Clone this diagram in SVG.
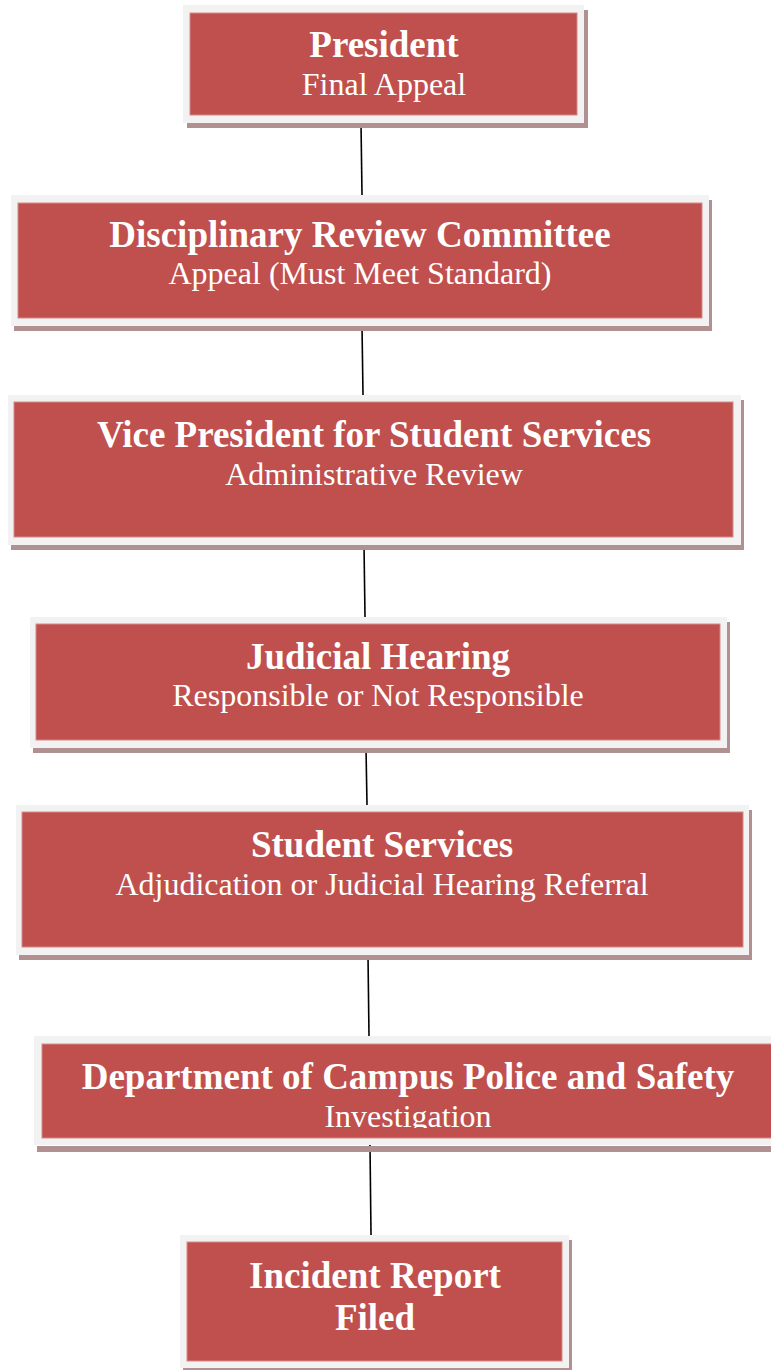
<svg xmlns="http://www.w3.org/2000/svg" width="771" height="1370" viewBox="0 0 771 1370">
<style>
.sh{fill:#b09090}
.fr{fill:#f2f2f2}
.rd{fill:#c0504d;stroke:#d58a88;stroke-width:1}
.t{font-family:"Liberation Serif","Times New Roman",serif;font-weight:bold;font-size:37px;fill:#ffffff;text-anchor:middle}
.s{font-family:"Liberation Serif","Times New Roman",serif;font-size:32px;fill:#ffffff;text-anchor:middle}
.c{stroke:#000000;stroke-width:1.6;fill:none}
</style>
<defs>
<clipPath id="clipInv"><rect x="42" y="1044" width="740" height="84"/></clipPath>
</defs>
<rect width="771" height="1370" fill="#ffffff"/>
<g id="connectors">
<line class="c" x1="361" y1="123" x2="362" y2="195"/>
<line class="c" x1="362" y1="326" x2="363" y2="395"/>
<line class="c" x1="364" y1="545" x2="365" y2="617"/>
<line class="c" x1="366" y1="748" x2="367" y2="805"/>
<line class="c" x1="368" y1="955" x2="369" y2="1036"/>
<line class="c" x1="370" y1="1145" x2="371" y2="1235"/>
</g>
<g id="president">
<rect class="sh" x="187" y="10" width="401" height="118"/>
<rect class="fr" x="183" y="5" width="401" height="118"/>
<rect class="rd" x="190" y="13" width="387" height="102"/>
<text class="t" x="384" y="57">President</text>
<text class="s" x="384" y="95">Final Appeal</text>
</g>
<g id="drc">
<rect class="sh" x="14" y="200" width="698" height="131"/>
<rect class="fr" x="11" y="195" width="698" height="131"/>
<rect class="rd" x="18" y="203" width="684" height="115"/>
<text class="t" x="360" y="247">Disciplinary Review Committee</text>
<text class="s" x="360" y="284">Appeal (Must Meet Standard)</text>
</g>
<g id="vp">
<rect class="sh" x="11" y="400" width="733" height="150"/>
<rect class="fr" x="8" y="395" width="733" height="150"/>
<rect class="rd" x="14" y="402" width="719" height="135"/>
<text class="t" x="374" y="447">Vice President for Student Services</text>
<text class="s" x="374" y="485">Administrative Review</text>
</g>
<g id="judicial">
<rect class="sh" x="33" y="622" width="697" height="131"/>
<rect class="fr" x="30" y="617" width="697" height="131"/>
<rect class="rd" x="36" y="624" width="684" height="116"/>
<text class="t" x="378" y="669">Judicial Hearing</text>
<text class="s" x="378" y="706">Responsible or Not Responsible</text>
</g>
<g id="studentservices">
<rect class="sh" x="19" y="810" width="733" height="150"/>
<rect class="fr" x="16" y="805" width="733" height="150"/>
<rect class="rd" x="22" y="812" width="721" height="135"/>
<text class="t" x="382" y="857">Student Services</text>
<text class="s" x="382" y="895">Adjudication or Judicial Hearing Referral</text>
</g>
<g id="police">
<rect class="sh" x="37" y="1146" width="750" height="6"/>
<rect class="fr" x="34" y="1036" width="750" height="109"/>
<rect class="rd" x="42" y="1044" width="740" height="94"/>
<text class="t" x="408" y="1089">Department of Campus Police and Safety</text>
<text class="s" x="408" y="1127" clip-path="url(#clipInv)">Investigation</text>
</g>
<g id="incident">
<rect class="sh" x="183" y="1240" width="389" height="133"/>
<rect class="fr" x="180" y="1235" width="389" height="133"/>
<rect class="rd" x="187" y="1242" width="375" height="119"/>
<text class="t" x="375" y="1288">Incident Report</text>
<text class="t" x="375" y="1330">Filed</text>
</g>
</svg>
